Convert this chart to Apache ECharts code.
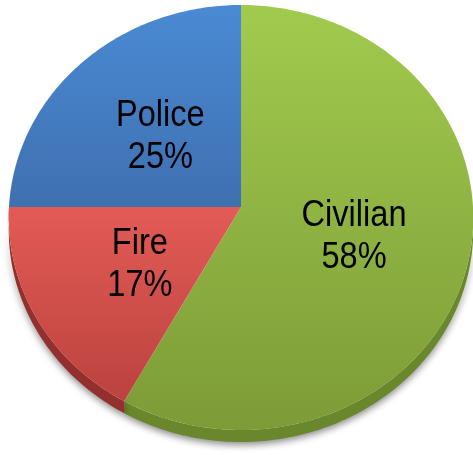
<!DOCTYPE html>
<html>
<head>
<meta charset="utf-8">
<script src="https://cdn.jsdelivr.net/npm/echarts@6/dist/echarts.min.js"></script>
<style>
  html, body { margin: 0; padding: 0; background: #fff; }
  #chart { width: 473px; height: 455px; }
</style>
</head>
<body>
<div id="chart"></div>
<script>
// slices, clockwise from 12 o'clock
const names = ['Civilian', 'Fire', 'Police']
const values = [58, 17, 25]

// look of the tilted disc
const CX = 241, CY = 207, R = 232, RT = 212, P = 0.0494, DEPTH = 12
const topFill = [['#a1cb4e', '#7d9b37'], ['#e35b56', '#bb423e'], ['#4a8ad4', '#3f70b0']]
const sideFill = ['#6a872c', '#93302d', '#365f96']

function proj (u, v) {
  let s = 1 / (1 - P * v)
  return [CX + R * u * s, CY + RT * v * s]
}
function rim (a) {
  return proj(Math.sin(a), -Math.cos(a))
}

let chart = echarts.init(document.getElementById('chart'))
let total = values.reduce((a, b) => a + b, 0)

let option = {
  backgroundColor: '#fff',
  animation: false,
  series: [{
    type: 'custom',
    coordinateSystem: 'none',
    data: values,
    renderItem: function (params, api) {
      let i = params.dataIndex
      let start = 0
      for (let j = 0; j < i; j++) start += values[j]
      let a0 = start / total * Math.PI * 2
      let a1 = (start + values[i]) / total * Math.PI * 2
      let children = []

      // front side of the disc
      let s0 = Math.max(a0, Math.PI / 2)
      let s1 = Math.min(a1, Math.PI * 1.5)
      if (s1 > s0) {
        let upper = []
        let n = Math.ceil((s1 - s0) * 60)
        for (let k = 0; k <= n; k++) upper.push(rim(s0 + (s1 - s0) * k / n))
        let lower = upper.map(p => [p[0], p[1] + DEPTH]).reverse()
        children.push({
          type: 'polygon',
          shape: { points: upper.concat(lower) },
          style: {
            fill: sideFill[i],
            shadowColor: 'rgba(0,0,0,0.45)',
            shadowBlur: 7,
            shadowOffsetY: 3
          }
        })
      }

      // top face
      let pts = [proj(0, 0)]
      let m = Math.ceil((a1 - a0) * 60)
      for (let k = 0; k <= m; k++) pts.push(rim(a0 + (a1 - a0) * k / m))
      let ys = pts.map(p => p[1])
      children.push({
        type: 'polygon',
        shape: { points: pts },
        style: {
          fill: new echarts.graphic.LinearGradient(0, Math.min(...ys), 0, Math.max(...ys), [
            { offset: 0, color: topFill[i][0] },
            { offset: 1, color: topFill[i][1] }
          ], true)
        }
      })

      // label at half radius
      let mid = (a0 + a1) / 2
      let lp = proj(0.5 * Math.sin(mid), -0.5 * Math.cos(mid))
      children.push({
        type: 'text',
        x: lp[0],
        y: lp[1] + 3,
        scaleX: 0.88,
        style: {
          text: names[i] + '\n' + Math.round(values[i] / total * 100) + '%',
          x: 0,
          y: 0,
          align: 'center',
          verticalAlign: 'middle',
          fontFamily: 'Liberation Sans, Arial, sans-serif',
          fontSize: 37,
          lineHeight: 42,
          fill: '#000'
        }
      })
      return { type: 'group', children: children }
    }
  }]
}
chart.setOption(option)
</script>
</body>
</html>
